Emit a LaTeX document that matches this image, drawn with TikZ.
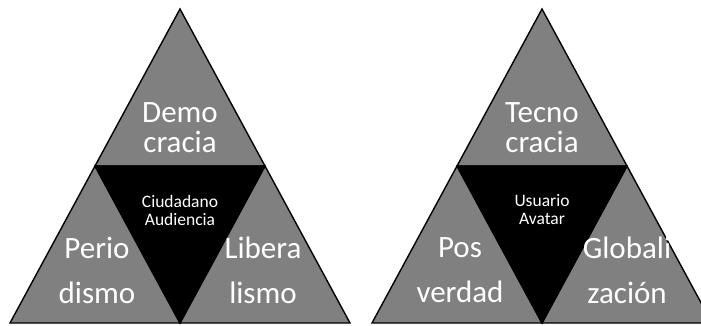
\documentclass[tikz,border=0pt]{standalone}
\usepackage{fontspec}
\setmainfont{Carlito}
\usepackage{tikz}
\definecolor{trigray}{RGB}{128,128,128}

\begin{document}
\begin{tikzpicture}[x=1pt,y=-1pt,line width=1.4pt,line join=miter]
		\tikzstyle{outer tri}=[fill=trigray,draw=black]
		\tikzstyle{inner tri}=[fill=black,draw=black]
		\tikzstyle{big label}=[text=white,inner sep=0pt,align=center,font=\fontsize{31}{30}\selectfont]
		\tikzstyle{small label}=[text=white,inner sep=0pt,align=center,font=\fontsize{17.5}{18}\selectfont]

		\useasboundingbox (0,0) rectangle (701,326);
		\clip (0,0) rectangle (701,326);

		% left triangle
		\coordinate (L-top) at (180,9);
		\coordinate (L-bl) at (10,323);
		\coordinate (L-br) at (350,323);
		\coordinate (L-ml) at (95,166);
		\coordinate (L-mr) at (265,166);
		\coordinate (L-mb) at (180,323);
		\filldraw[outer tri] (L-top) -- (L-ml) -- (L-mr) -- cycle;
		\filldraw[outer tri] (L-ml) -- (L-bl) -- (L-mb) -- cycle;
		\filldraw[outer tri] (L-mr) -- (L-mb) -- (L-br) -- cycle;
		\filldraw[inner tri] (L-ml) -- (L-mr) -- (L-mb) -- cycle;

		% right triangle
		\coordinate (R-top) at (542,9);
		\coordinate (R-bl) at (372,323);
		\coordinate (R-br) at (712,323);
		\coordinate (R-ml) at (457,166);
		\coordinate (R-mr) at (627,166);
		\coordinate (R-mb) at (542,323);
		\filldraw[outer tri] (R-top) -- (R-ml) -- (R-mr) -- cycle;
		\filldraw[outer tri] (R-ml) -- (R-bl) -- (R-mb) -- cycle;
		\filldraw[outer tri] (R-mr) -- (R-mb) -- (R-br) -- cycle;
		\filldraw[inner tri] (R-ml) -- (R-mr) -- (R-mb) -- cycle;

		\node[big label] (demo) at (180,128) {Demo\\cracia};
		\node[big label] (perio) at (97,270) {Perio\\[15pt]dismo};
		\node[big label] (libera) at (263,270) {Libera\\[15pt]lismo};
		\node[small label] (ciudadano) at (180,210) {Ciudadano\\Audiencia};

		\node[big label] (tecno) at (542,128) {Tecno\\cracia};
		\node[big label] (pos) at (460,270) {Pos\\[15pt]verdad};
		\node[big label] (globali) at (627,270) {Globali\\[15pt]zación};
		\node[small label] (usuario) at (542,210) {Usuario\\Avatar};
\end{tikzpicture}
\end{document}
